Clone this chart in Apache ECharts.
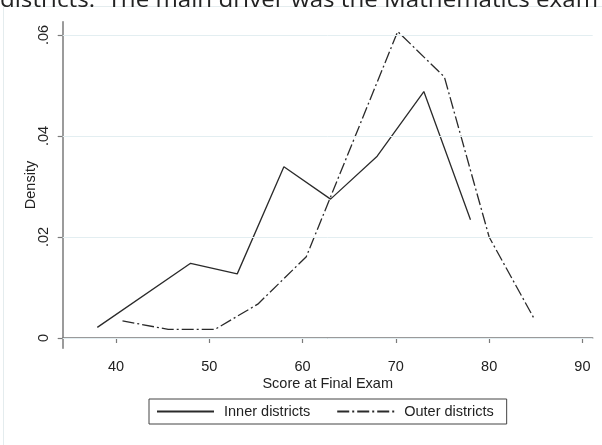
<!DOCTYPE html>
<html>
<head>
<meta charset="utf-8">
<script src="https://cdn.jsdelivr.net/npm/echarts@6/dist/echarts.min.js"></script>
<style>
html,body{margin:0;padding:0;background:#fff;}
#chart{width:602px;height:445px;}
</style>
</head>
<body>
<div id="chart"></div>
<script>
// ---- data ----
const innerX = [38, 48, 53, 58, 63, 68, 73, 78];
const innerY = [0.0021, 0.0148, 0.0127, 0.0339, 0.0275, 0.0360, 0.0488, 0.0234];
const outerX = [40.7, 45.6, 50.6, 55.2, 60.4, 70.2, 75.2, 80.0, 84.8];
const outerY = [0.0034, 0.0017, 0.0017, 0.0067, 0.0161, 0.0607, 0.0517, 0.0200, 0.0039];
const xTicks = [40, 50, 60, 70, 80, 90];
const yTicks = [0, 0.02, 0.04, 0.06];
const seriesNames = ['Inner districts', 'Outer districts'];
const xTitle = 'Score at Final Exam';
const yTitle = 'Density';
const topText = 'districts.  The main driver was the Mathematics exam';

const pair = (xs, ys) => xs.map((x, i) => [x, ys[i]]);
const font = 'Liberation Sans, Arial, sans-serif';
const fs = 14.5;
const ink = '#222';
const axisCol = '#7a7a7a';

const chart = echarts.init(document.getElementById('chart'), null, {renderer: 'canvas'});
chart.setOption({
  animation: false,
  backgroundColor: '#fff',
  textStyle: {fontFamily: font},
  graphic: [
    {type: 'rect', silent: true, shape: {x: 3.5, y: 6.5, width: 640, height: 480},
     style: {fill: 'none', stroke: '#e4ecee', lineWidth: 1}},
    {type: 'text', silent: true, x: 0, y: -9, scaleX: 1.15, z: 10,
     style: {text: topText, font: '21px "Open Sans", sans-serif', fill: '#222', verticalAlign: 'top', align: 'left'}}
  ],
  grid: {left: 62.7, right: 9.3, top: 21.7, bottom: 96.7, containLabel: false, outerBoundsMode: 'none'},
  legend: {
    data: seriesNames,
    left: 149, top: 399,
    padding: [5, 13, 5, 7],
    itemWidth: 57, itemHeight: 14, itemGap: 26,
    borderColor: '#444', borderWidth: 1, borderRadius: 0,
    itemStyle: {color: 'rgba(0,0,0,0)', borderWidth: 0, opacity: 0},
    textStyle: {fontFamily: font, fontSize: fs, color: ink, padding: [0, 0, 0, 5]}
  },
  xAxis: {
    type: 'value', min: 34.29, max: 91.1,
    name: xTitle, nameLocation: 'middle', nameGap: 28, nameMoveOverlap: false,
    nameTextStyle: {fontFamily: font, fontSize: fs, color: ink},
    axisLine: {show: true, lineStyle: {color: axisCol, width: 1.5}},
    axisTick: {show: true, length: 5, customValues: xTicks, lineStyle: {color: axisCol, width: 1.2}},
    axisLabel: {customValues: xTicks, margin: 11, fontFamily: font, fontSize: fs, color: ink},
    splitLine: {show: false}
  },
  yAxis: {
    type: 'value', min: -0.00204, max: 0.06264,
    name: yTitle, nameLocation: 'middle', nameGap: 24, nameRotate: 90, nameMoveOverlap: false,
    nameTextStyle: {fontFamily: font, fontSize: fs, color: ink},
    axisLine: {show: true, lineStyle: {color: axisCol, width: 1.5}},
    axisTick: {show: true, length: 5, customValues: yTicks, lineStyle: {color: axisCol, width: 1.2}},
    axisLabel: {customValues: yTicks, rotate: 90, margin: 11, fontFamily: font, fontSize: fs, color: ink,
      formatter: v => v === 0 ? '0' : v.toFixed(2).replace(/^0/, '')},
    splitLine: {show: false}
  },
  series: [
    {
      name: seriesNames[0], type: 'line', data: pair(innerX, innerY),
      symbol: 'none', showSymbol: false,
      lineStyle: {color: '#2a2a2a', width: 1.3, type: 'solid'},
      itemStyle: {color: '#2a2a2a'},
      z: 3,
      markLine: {
        silent: true, symbol: ['none', 'none'], label: {show: false}, animation: false,
        lineStyle: {color: '#e3eef1', width: 1, type: 'solid'},
        data: yTicks.map(v => ({yAxis: v}))
      }
    },
    {
      name: seriesNames[1], type: 'line', data: pair(outerX, outerY),
      symbol: 'none', showSymbol: false,
      lineStyle: {color: '#2a2a2a', width: 1.3, type: [12, 3, 2, 3]},
      itemStyle: {color: '#2a2a2a'},
      z: 3
    }
  ]
});
</script>
</body>
</html>
